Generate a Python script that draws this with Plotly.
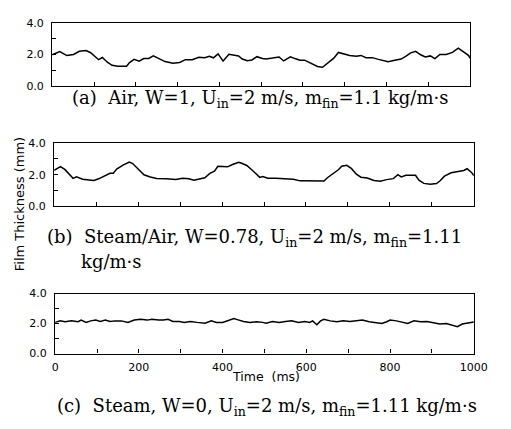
import plotly.graph_objects as go

# ---- film thickness traces (time in ms, thickness in mm) ----
time_a = [0, 18, 35, 51, 65, 81, 92, 104, 111, 120, 132, 143, 157, 178, 185, 196, 208, 219,
          231, 242, 254, 270, 289, 305, 319, 335, 351, 365, 376, 386, 397, 409, 423, 434,
          446, 455, 467, 478, 490, 503, 512, 527, 543, 554, 570, 581, 593, 604, 620, 635,
          647, 658, 674, 685, 697, 712, 728, 739, 751, 766, 781, 793, 804, 820, 835, 847,
          858, 870, 882, 893, 905, 916, 928, 943, 958, 972, 986, 997, 1000]
thick_a = [1.98, 2.19, 1.93, 2.00, 2.20, 2.25, 2.11, 1.80, 1.67, 1.81, 1.51, 1.31, 1.25, 1.26,
           1.49, 1.69, 1.57, 1.74, 1.75, 1.91, 1.75, 1.55, 1.45, 1.49, 1.67, 1.67, 1.82, 1.79,
           1.89, 1.79, 2.04, 1.58, 2.01, 1.97, 1.91, 1.71, 1.60, 1.65, 1.86, 1.75, 1.72, 1.77,
           1.84, 1.59, 1.85, 1.74, 1.64, 1.64, 1.44, 1.24, 1.19, 1.45, 1.77, 2.13, 2.05, 1.93,
           1.89, 1.94, 1.79, 1.80, 1.69, 1.60, 1.54, 1.64, 1.71, 1.89, 2.10, 2.20, 1.98, 1.84,
           1.91, 1.74, 2.00, 2.00, 2.13, 2.40, 2.14, 1.93, 1.76]

time_b = [0, 15, 26, 38, 45, 53, 68, 83, 95, 106, 122, 133, 141, 149, 164, 179, 187, 198,
          214, 229, 244, 267, 290, 306, 321, 333, 348, 359, 371, 382, 390, 402, 413, 425,
          440, 448, 459, 474, 490, 497, 509, 528, 551, 570, 586, 605, 624, 643, 651, 666,
          678, 685, 697, 708, 720, 731, 746, 762, 777, 792, 808, 819, 827, 838, 850, 861,
          869, 881, 896, 911, 919, 930, 946, 961, 976, 984, 995, 1000]
thick_b = [2.28, 2.52, 2.32, 1.97, 1.77, 1.87, 1.71, 1.67, 1.63, 1.74, 1.93, 2.09, 2.09, 2.36,
           2.61, 2.81, 2.71, 2.40, 2.00, 1.86, 1.76, 1.74, 1.70, 1.77, 1.75, 1.65, 1.75, 1.81,
           2.09, 2.23, 2.54, 2.54, 2.50, 2.65, 2.79, 2.71, 2.59, 2.24, 1.83, 1.89, 1.78, 1.78,
           1.75, 1.71, 1.61, 1.61, 1.61, 1.60, 1.81, 2.08, 2.33, 2.54, 2.60, 2.40, 2.03, 1.84,
           1.79, 1.64, 1.58, 1.69, 1.75, 2.00, 1.86, 1.96, 1.96, 1.96, 1.65, 1.45, 1.39, 1.44,
           1.60, 1.91, 2.12, 2.19, 2.27, 2.38, 2.13, 1.95]

time_c = [0, 12, 24, 39, 55, 62, 74, 85, 97, 108, 120, 131, 143, 158, 174, 189, 204, 220,
          231, 247, 258, 270, 281, 297, 308, 323, 339, 358, 373, 385, 400, 412, 427, 439,
          450, 465, 481, 496, 504, 519, 535, 550, 565, 581, 596, 608, 615, 625, 634, 642,
          657, 673, 688, 704, 719, 734, 750, 765, 780, 792, 800, 815, 830, 842, 857, 873,
          888, 903, 919, 934, 949, 961, 972, 984, 995, 1000]
thick_c = [2.08, 2.18, 2.12, 2.18, 2.12, 2.23, 2.08, 2.18, 2.23, 2.14, 2.24, 2.14, 2.18, 2.18,
           2.08, 2.24, 2.29, 2.23, 2.29, 2.23, 2.24, 2.29, 2.14, 2.14, 2.08, 2.14, 2.08, 2.03,
           2.18, 2.08, 2.08, 2.18, 2.33, 2.23, 2.14, 2.08, 2.12, 2.08, 2.03, 2.14, 2.08, 2.14,
           2.18, 2.08, 2.14, 2.08, 2.18, 1.92, 2.18, 2.29, 2.18, 2.12, 2.18, 2.14, 2.18, 2.23,
           2.12, 2.08, 2.01, 2.12, 2.23, 2.18, 2.08, 2.01, 2.18, 2.12, 2.14, 2.08, 1.97, 2.01,
           1.90, 1.79, 1.97, 2.01, 2.08, 2.10]

# ---- axis ticks ----
x_tick_values = [0, 200, 400, 600, 800, 1000]
x_tick_labels = ["0", "200", "400", "600", "800", "1000"]
y_tick_values = [0, 2, 4]
y_tick_labels = ["0.0", "2.0", "4.0"]

# ---- captions ----
caption_a = "(a)\u00a0 Air, W=1, U<sub>in</sub>=2 m/s, m<sub>fin</sub>=1.1 kg/m·s"
caption_b1 = "(b)\u00a0 Steam/Air, W=0.78, U<sub>in</sub>=2 m/s, m<sub>fin</sub>=1.11"
caption_b2 = "kg/m·s"
caption_c = "(c)\u00a0 Steam, W=0, U<sub>in</sub>=2 m/s, m<sub>fin</sub>=1.11 kg/m·s"
y_title = "Film Thickness (mm)"
x_title = "Time\u00a0 (ms)"

W, H = 511, 429


def fx(px):
    return px / W


def fy(px):
    return 1 - px / H


# panel boxes in pixels: left, right, top, bottom
boxes = [(50, 483, 17.5, 82.5), (52, 487, 141.5, 206.5), (53, 487, 296.5, 358.5)]
series = [(time_a, thick_a), (time_b, thick_b), (time_c, thick_c)]

tick_font = dict(family="DejaVu Sans", size=11, color="black")
cap_font = dict(family="DejaVu Serif", size=18, color="black")
tick_style = dict(ticks="inside", ticklen=4, tickwidth=1.2, tickcolor="black")

fig = go.Figure()
layout = dict(
    width=W, height=H, autosize=False,
    margin=dict(l=0, r=0, t=0, b=0),
    paper_bgcolor="white", plot_bgcolor="white",
    showlegend=False,
)

for i, ((t, v), (x0, x1, top, bot)) in enumerate(zip(series, boxes), start=1):
    sfx = "" if i == 1 else str(i)
    fig.add_trace(go.Scatter(
        x=t, y=v, mode="lines",
        line=dict(color="black", width=1.5),
        xaxis="x" + sfx, yaxis="y" + sfx, hoverinfo="skip",
    ))
    xa = dict(
        domain=[fx(x0), fx(x1)], range=[0, 1000], anchor="y" + sfx,
        showline=True, linecolor="black", linewidth=1.3, mirror=True,
        showgrid=False, zeroline=False, **tick_style,
    )
    if i == 3:
        # labelled time axis on the bottom panel
        xa.update(tickvals=x_tick_values, ticktext=x_tick_labels,
                  minor=dict(dtick=100, tick0=0, showgrid=False, **tick_style),
                  tickfont=tick_font, ticklabelstandoff=3)
    else:
        xa.update(tickmode="linear", tick0=0, dtick=100, showticklabels=False)
    layout["xaxis" + sfx] = xa
    layout["yaxis" + sfx] = dict(
        domain=[fy(bot), fy(top)], range=[0, 4], anchor="x" + sfx,
        showline=True, linecolor="black", linewidth=1.3, mirror=True,
        tickvals=y_tick_values, ticktext=y_tick_labels,
        minor=dict(dtick=1, tick0=0, showgrid=False, **tick_style),
        tickfont=tick_font, ticklabelstandoff=5,
        showgrid=False, zeroline=False, **tick_style,
    )

annotations = [
    dict(text=caption_a, x=fx(265), y=fy(96), xanchor="center", yanchor="middle",
         font=cap_font),
    dict(text=caption_b1, x=fx(260), y=fy(239), xanchor="center", yanchor="middle",
         font=cap_font),
    dict(text=caption_b2, x=fx(78), y=fy(263), xanchor="left", yanchor="middle",
         font=cap_font),
    dict(text=caption_c, x=fx(273), y=fy(414), xanchor="center", yanchor="middle",
         font=cap_font),
    dict(text=y_title, x=fx(16), y=fy(204), textangle=-90, xanchor="center",
         yanchor="middle", font=dict(family="DejaVu Sans", size=13, color="black")),
    dict(text=x_title, x=fx(272), y=fy(382), xanchor="center", yanchor="middle",
         font=dict(family="DejaVu Sans", size=12.5, color="black")),
]
for a in annotations:
    a.update(xref="paper", yref="paper", showarrow=False)
layout["annotations"] = annotations

fig.update_layout(**layout)
fig.write_html("out.html")
